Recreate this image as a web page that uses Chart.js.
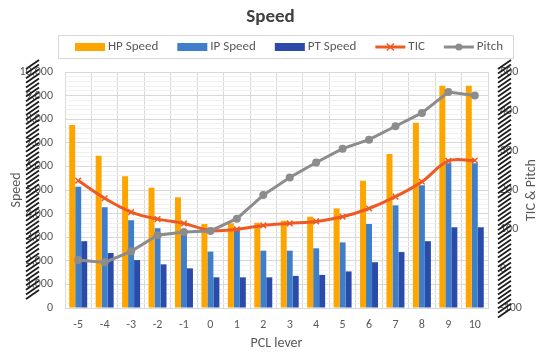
<!DOCTYPE html>
<html lang="en">
<head>
<meta charset="UTF-8">
<title>Speed</title>
<script src="https://cdn.jsdelivr.net/npm/chart.js@4.4.1/dist/chart.umd.min.js"></script>
<style>
  html, body { margin: 0; padding: 0; background: #ffffff; }
  #wrap { width: 543px; height: 354px; }
</style>
</head>
<body>
<div id="wrap"><canvas id="chart"></canvas></div>
<script>
// values
const pclLever = ['-5', '-4', '-3', '-2', '-1', '0', '1', '2', '3', '4', '5', '6', '7', '8', '9', '10'];
const hpSpeed = [7750, 6450, 5580, 5100, 4690, 3560, 3590, 3610, 3700, 3870, 4220, 5390, 6530, 7850, 9420, 9420];
const ipSpeed = [5140, 4270, 3720, 3380, 3250, 2390, 3300, 2430, 2430, 2530, 2780, 3560, 4350, 5200, 6130, 6130];
const ptSpeed = [2830, 2330, 2030, 1850, 1680, 1300, 1300, 1300, 1360, 1400, 1550, 1940, 2370, 2830, 3420, 3420];
const tic = [224, 179, 144, 126, 115, 97, 100, 110, 115, 120, 132, 153, 183, 221, 274, 275];
const pitch = [22, 16, 44, 85, 93, 96, 127, 187, 232, 270, 305, 328, 362, 396, 449, 440];

const FONT = 'Calibri, Carlito, Lato, sans-serif';
const TEXT = '#595959';

// boxed legend, axis titles reading bottom to top, hatching over the axis numbers
const decor = {
  id: 'decor',
  afterDraw(chart) {
    const ctx = chart.ctx;
    const area = chart.chartArea;
    ctx.save();

    // legend
    const legY = 47;
    ctx.strokeStyle = '#d9d9d9';
    ctx.lineWidth = 1;
    ctx.strokeRect(58.5, legY - 11.5, 455, 23);
    ctx.font = '13px ' + FONT;
    ctx.textBaseline = 'middle';
    ctx.textAlign = 'left';
    let x = 75;
    chart.data.datasets.forEach(ds => {
      if (ds.type === 'bar') {
        ctx.fillStyle = ds.backgroundColor;
        ctx.fillRect(x, legY - 4, 30, 8);
      } else {
        ctx.strokeStyle = ds.borderColor;
        ctx.fillStyle = ds.borderColor;
        ctx.lineWidth = 3;
        ctx.beginPath();
        ctx.moveTo(x, legY); ctx.lineTo(x + 30, legY);
        ctx.stroke();
        const cx = x + 15;
        if (ds.pointStyle === 'crossRot') {
          ctx.lineWidth = 1.5;
          ctx.beginPath();
          ctx.moveTo(cx - 3.5, legY - 3.5); ctx.lineTo(cx + 3.5, legY + 3.5);
          ctx.moveTo(cx - 3.5, legY + 3.5); ctx.lineTo(cx + 3.5, legY - 3.5);
          ctx.stroke();
        } else {
          ctx.beginPath();
          ctx.arc(cx, legY, 3.5, 0, Math.PI * 2);
          ctx.fill();
        }
      }
      ctx.fillStyle = TEXT;
      ctx.fillText(ds.label, x + 33, legY);
      x += 33 + ctx.measureText(ds.label).width + 19;
    });

    // axis titles
    const midY = (area.top + area.bottom) / 2;
    ctx.font = '14px ' + FONT;
    ctx.fillStyle = TEXT;
    ctx.textAlign = 'center';
    [['Speed', 16], ['TIC & Pitch', 531]].forEach(([txt, tx]) => {
      ctx.translate(tx, midY);
      ctx.rotate(-Math.PI / 2);
      ctx.fillText(txt, 0, 0);
      ctx.setTransform(1, 0, 0, 1, 0, 0);
    });

    // hatching
    ctx.strokeStyle = '#1e1e1e';
    ctx.lineWidth = 1.8;
    const hatch = (x0, yTop, yBot) => {
      ctx.beginPath();
      for (let y = yTop; y <= yBot; y += 4.6) {
        ctx.moveTo(x0, y + 9);
        ctx.lineTo(x0 + 13, y);
      }
      ctx.stroke();
    };
    hatch(26, 60, 290);
    hatch(498, 60, 312);
    ctx.restore();
  }
};

const ctx = document.getElementById('chart').getContext('2d');
const chart = new Chart(ctx, {
  data: {
    labels: pclLever,
    datasets: [
      { type: 'bar', label: 'HP Speed', data: hpSpeed, backgroundColor: '#FFA500', yAxisID: 'y', order: 3 },
      { type: 'bar', label: 'IP Speed', data: ipSpeed, backgroundColor: '#3F7FCA', yAxisID: 'y', order: 3 },
      { type: 'bar', label: 'PT Speed', data: ptSpeed, backgroundColor: '#2A4BA9', yAxisID: 'y', order: 3 },
      {
        type: 'line', label: 'TIC', data: tic, yAxisID: 'y2', order: 2,
        borderColor: '#EE5A24', backgroundColor: '#EE5A24', borderWidth: 3, tension: 0.35,
        pointStyle: 'crossRot', pointRadius: 4, pointBorderWidth: 1.5
      },
      {
        type: 'line', label: 'Pitch', data: pitch, yAxisID: 'y2', order: 1,
        borderColor: '#8C8C8C', backgroundColor: '#8C8C8C', borderWidth: 3, tension: 0,
        pointStyle: 'circle', pointRadius: 4, pointBorderWidth: 0
      }
    ]
  },
  options: {
    responsive: true,
    maintainAspectRatio: false,
    animation: false,
    layout: { padding: { left: 17, right: 19, top: 0, bottom: 2 } },
    datasets: {
      bar: { categoryPercentage: 0.68, barPercentage: 1 }
    },
    plugins: {
      title: {
        display: true,
        text: 'Speed',
        color: '#404040',
        font: { family: FONT, size: 19, weight: 'bold' },
        padding: { top: 5.6, bottom: 43.6 }
      },
      legend: { display: false },
      tooltip: { enabled: false }
    },
    scales: {
      x: {
        offset: true,
        afterFit: s => { s.height = 44; },
        grid: { color: '#d9d9d9', offset: true, drawTicks: false },
        border: { color: '#d9d9d9' },
        ticks: { color: TEXT, font: { family: FONT, size: 12 }, padding: 10 },
        title: { display: true, text: 'PCL lever', color: TEXT, font: { family: FONT, size: 14 }, padding: { top: 3, bottom: 0 } }
      },
      y: {
        position: 'left',
        min: 0,
        max: 10000,
        afterFit: s => { s.width = 48; },
        grid: {
          drawTicks: false,
          color: c => (c.tick.value % 1000 === 0 ? '#d9d9d9' : '#f0f0f0')
        },
        border: { display: false },
        ticks: {
          stepSize: 200,
          autoSkip: false,
          color: TEXT,
          font: { family: FONT, size: 12 },
          padding: 12,
          callback: v => (v % 1000 === 0 ? v.toLocaleString('en-US') : '')
        }
      },
      y2: {
        position: 'right',
        min: -100,
        max: 500,
        afterFit: s => { s.width = 36; },
        grid: { drawOnChartArea: false, drawTicks: false },
        border: { display: false },
        ticks: { stepSize: 100, color: TEXT, font: { family: FONT, size: 12 }, padding: 12 }
      }
    }
  },
  plugins: [decor]
});
</script>
</body>
</html>
